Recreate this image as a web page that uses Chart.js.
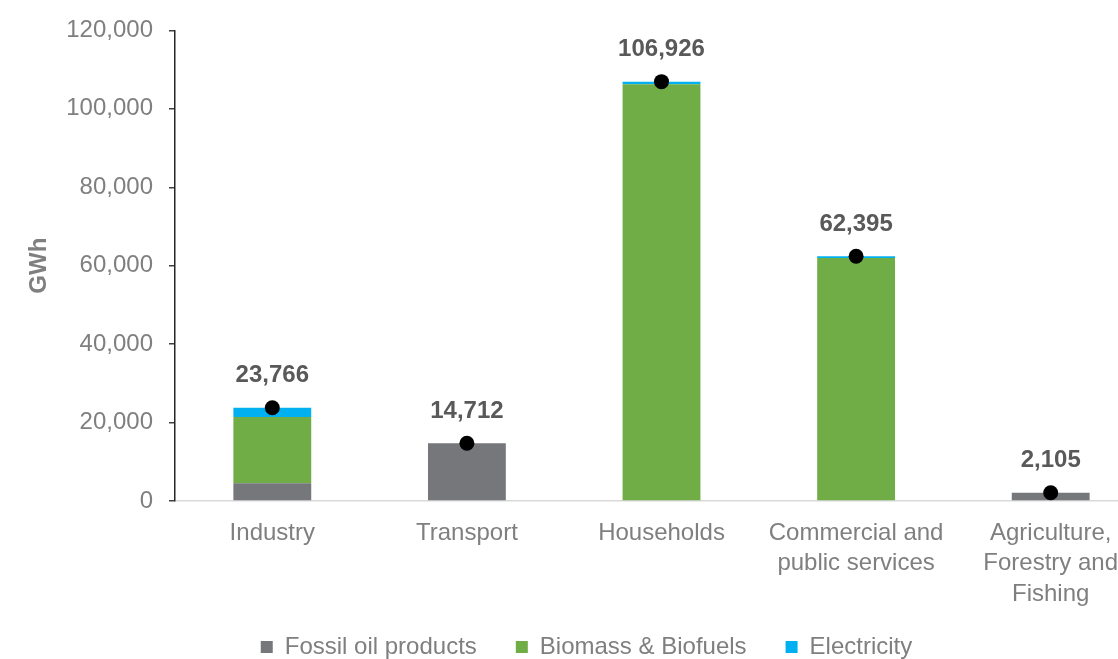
<!DOCTYPE html>
<html>
<head>
<meta charset="utf-8">
<script src="https://cdn.jsdelivr.net/npm/chart.js@4/dist/chart.umd.min.js"></script>
<style>
  html, body { margin: 0; padding: 0; background: #fff; overflow: hidden; }
  #wrap { position: absolute; left: 0; top: 0; width: 1172px; height: 669px; }
</style>
</head>
<body>
<div id="wrap"><canvas id="energyChart"></canvas></div>
<script>
// Final energy consumption by sector, GWh
const sectors = ['Industry', 'Transport', 'Households', ['Commercial and', 'public services'], ['Agriculture,', 'Forestry and', 'Fishing']];
const fossilOil = [4520, 14712, 0, 0, 2105];
const biomass = [16880, 0, 106300, 61950, 0];
const electricity = [2366, 0, 626, 445, 0];
const totals = [23766, 14712, 106926, 62395, 2105];
const yTicks = [0, 20000, 40000, 60000, 80000, 100000, 120000];

const FONT = "'Liberation Sans', Arial, sans-serif";
const fmt = v => v.toLocaleString('en-US');

// writes the total above each black dot
const totalLabels = {
  id: 'totalLabels',
  afterDatasetsDraw(chart) {
    const meta = chart.getDatasetMeta(3);
    const ctx = chart.ctx;
    ctx.save();
    ctx.font = 'bold 24px ' + FONT;
    ctx.fillStyle = '#595959';
    ctx.textAlign = 'center';
    ctx.textBaseline = 'middle';
    meta.data.forEach((pt, i) => {
      ctx.fillText(fmt(totals[i]), pt.x, pt.y - 32);
    });
    ctx.restore();
  }
};

new Chart(document.getElementById('energyChart'), {
  type: 'bar',
  data: {
    labels: sectors,
    datasets: [
      { label: 'Fossil oil products', data: fossilOil, backgroundColor: '#76777b', stack: 'energy', order: 1 },
      { label: 'Biomass & Biofuels', data: biomass, backgroundColor: '#70ad47', stack: 'energy', order: 1 },
      { label: 'Electricity', data: electricity, backgroundColor: '#00b0f0', stack: 'energy', order: 1 },
      {
        type: 'line', label: 'Total', data: totals, stack: 'total', order: 0,
        showLine: false, pointRadius: 7.5, pointBackgroundColor: '#000', pointBorderWidth: 0
      }
    ]
  },
  options: {
    responsive: true,
    maintainAspectRatio: false,
    animation: false,
    layout: { padding: { top: 28, right: 24, left: 25, bottom: 0 } },
    datasets: { bar: { categoryPercentage: 1, barPercentage: 0.4, borderWidth: 0 } },
    plugins: {
      tooltip: { enabled: false },
      legend: {
        position: 'bottom',
        labels: {
          font: { family: FONT, size: 24 },
          color: '#7f7f7f',
          boxWidth: 12,
          boxHeight: 12,
          padding: 39,
          filter: item => item.text !== 'Total'
        }
      }
    },
    scales: {
      x: {
        stacked: true,
        grid: { display: false, drawTicks: false },
        border: { display: true, color: '#d9d9d9', width: 1.5 },
        ticks: {
          font: { family: FONT, size: 24, lineHeight: 1.27 },
          color: '#7f7f7f',
          padding: 17,
          maxRotation: 0,
          autoSkip: false
        },
        afterFit: scale => {
          scale.height = 95;
          // let the three-line label run past the axis box
          scale._computeLabelArea = () => undefined;
        }
      },
      y: {
        stacked: true,
        min: 0,
        max: 120000,
        afterBuildTicks: scale => { scale.ticks = yTicks.map(v => ({ value: v })); },
        grid: { drawOnChartArea: false, drawTicks: true, tickLength: 6, color: '#404040', lineWidth: 1.5 },
        border: { display: true, color: '#262626', width: 1.5 },
        ticks: {
          font: { family: FONT, size: 24 },
          color: '#7f7f7f',
          padding: 16,
          callback: v => fmt(v)
        },
        title: {
          display: true,
          text: 'GWh',
          font: { family: FONT, size: 24, weight: 'bold' },
          color: '#7f7f7f',
          padding: { top: 0, bottom: 0 }
        },
        afterFit: scale => { scale.width = 150; }
      }
    }
  },
  plugins: [totalLabels]
});
</script>
</body>
</html>
